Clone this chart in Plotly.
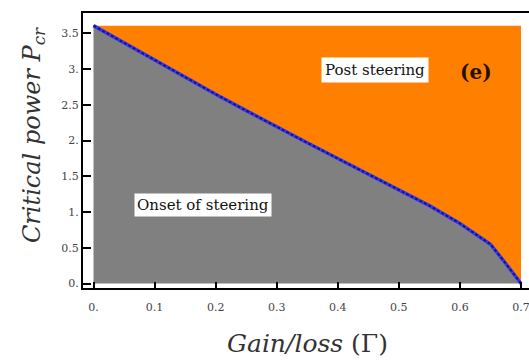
import plotly.graph_objects as go

# Data
gamma = [0.0, 0.05, 0.1, 0.15, 0.2, 0.25, 0.3, 0.35, 0.4, 0.45, 0.5, 0.55, 0.6, 0.625, 0.65, 0.675, 0.7]
p_cr = [3.61, 3.37, 3.13, 2.88, 2.65, 2.42, 2.19, 1.97, 1.75, 1.53, 1.31, 1.09, 0.84, 0.70, 0.55, 0.28, 0.0]
p_top = 3.61

x_ticks = [0.0, 0.1, 0.2, 0.3, 0.4, 0.5, 0.6, 0.7]
x_ticktext = ["0.", "0.1", "0.2", "0.3", "0.4", "0.5", "0.6", "0.7"]
y_ticks = [0.0, 0.5, 1.0, 1.5, 2.0, 2.5, 3.0, 3.5]
y_ticktext = ["0.", "0.5", "1.", "1.5", "2.", "2.5", "3.", "3.5"]

GRAY = "#808080"
ORANGE = "#FF8000"
SERIF = "DejaVu Serif"

fig = go.Figure()

# gray region (onset of steering)
fig.add_trace(go.Scatter(x=gamma, y=p_cr, mode="lines", line=dict(width=0, color=GRAY),
                         fill="tozeroy", fillcolor=GRAY, hoverinfo="skip", showlegend=False))
# orange region (post steering)
fig.add_trace(go.Scatter(x=[gamma[0], gamma[-1]], y=[p_top, p_top], mode="lines",
                         line=dict(width=0, color=ORANGE),
                         fill="tonexty", fillcolor=ORANGE, hoverinfo="skip", showlegend=False))
# boundary curve
fig.add_trace(go.Scatter(x=gamma, y=p_cr, mode="lines", line=dict(width=3.5, color="#3a3aee"),
                         showlegend=False))
fig.add_trace(go.Scatter(x=gamma, y=p_cr, mode="lines",
                         line=dict(width=2, color="#14148a", dash="3px,2px"),
                         showlegend=False))

px_per_x = 610.7
x0_px = 93.5
x_lo = (83 - x0_px) / px_per_x
x_hi = (529 - x0_px) / px_per_x
px_per_y = 71.43
y0_px = 283.5
y_lo = (y0_px - 288) / px_per_y
y_hi = (y0_px - 13) / px_per_y

fig.update_layout(
    width=529, height=361,
    margin=dict(l=83, r=0, t=13, b=73),
    paper_bgcolor="white", plot_bgcolor="white",
    font=dict(family=SERIF, color="#444444", size=11),
    xaxis=dict(range=[x_lo, x_hi], tickvals=x_ticks, ticktext=x_ticktext,
               ticks="inside", ticklen=6, tickwidth=1.5, tickcolor="black",
               showline=True, linecolor="black", linewidth=2, mirror=True,
               showgrid=False, zeroline=False, ticklabelstandoff=8,
               ticklabeloverflow="allow",
               tickfont=dict(family=SERIF, size=11, color="#444444")),
    yaxis=dict(range=[y_lo, y_hi], tickvals=y_ticks, ticktext=y_ticktext,
               ticks="inside", ticklen=8, tickwidth=1.5, tickcolor="black",
               showline=True, linecolor="black", linewidth=2, mirror=False,
               showgrid=False, zeroline=False,
               tickfont=dict(family=SERIF, size=11, color="#444444")),
    annotations=[
        dict(text="<i>Gain/loss</i> (Γ)", xref="paper", yref="paper",
             x=(307 - 83) / 446, y=-(343 - 288) / 275, xanchor="center", yanchor="middle",
             showarrow=False, font=dict(family=SERIF, size=25, color="#333333")),
        dict(text="<i>Critical power P<sub>cr</sub></i>", xref="paper", yref="paper",
             x=-(83 - 33) / 446, y=(288 - 135) / 275, xanchor="center", yanchor="middle",
             textangle=-90, showarrow=False, font=dict(family=SERIF, size=24, color="#333333")),
        dict(text="Post steering", xref="paper", yref="paper",
             x=(375 - 83) / 446, y=(288 - 70) / 275, xanchor="center", yanchor="middle",
             showarrow=False, bgcolor="white", borderpad=3,
             font=dict(family=SERIF, size=15, color="#111111")),
        dict(text="Onset of steering", xref="paper", yref="paper",
             x=(203 - 83) / 446, y=(288 - 205) / 275, xanchor="center", yanchor="middle",
             showarrow=False, bgcolor="white", borderpad=2,
             font=dict(family=SERIF, size=15, color="#111111")),
        dict(text="<b>(e)</b>", xref="paper", yref="paper",
             x=(476 - 83) / 446, y=(288 - 72) / 275, xanchor="center", yanchor="middle",
             showarrow=False, font=dict(family=SERIF, size=20, color="#221100")),
    ],
)

fig.write_html("out.html")
